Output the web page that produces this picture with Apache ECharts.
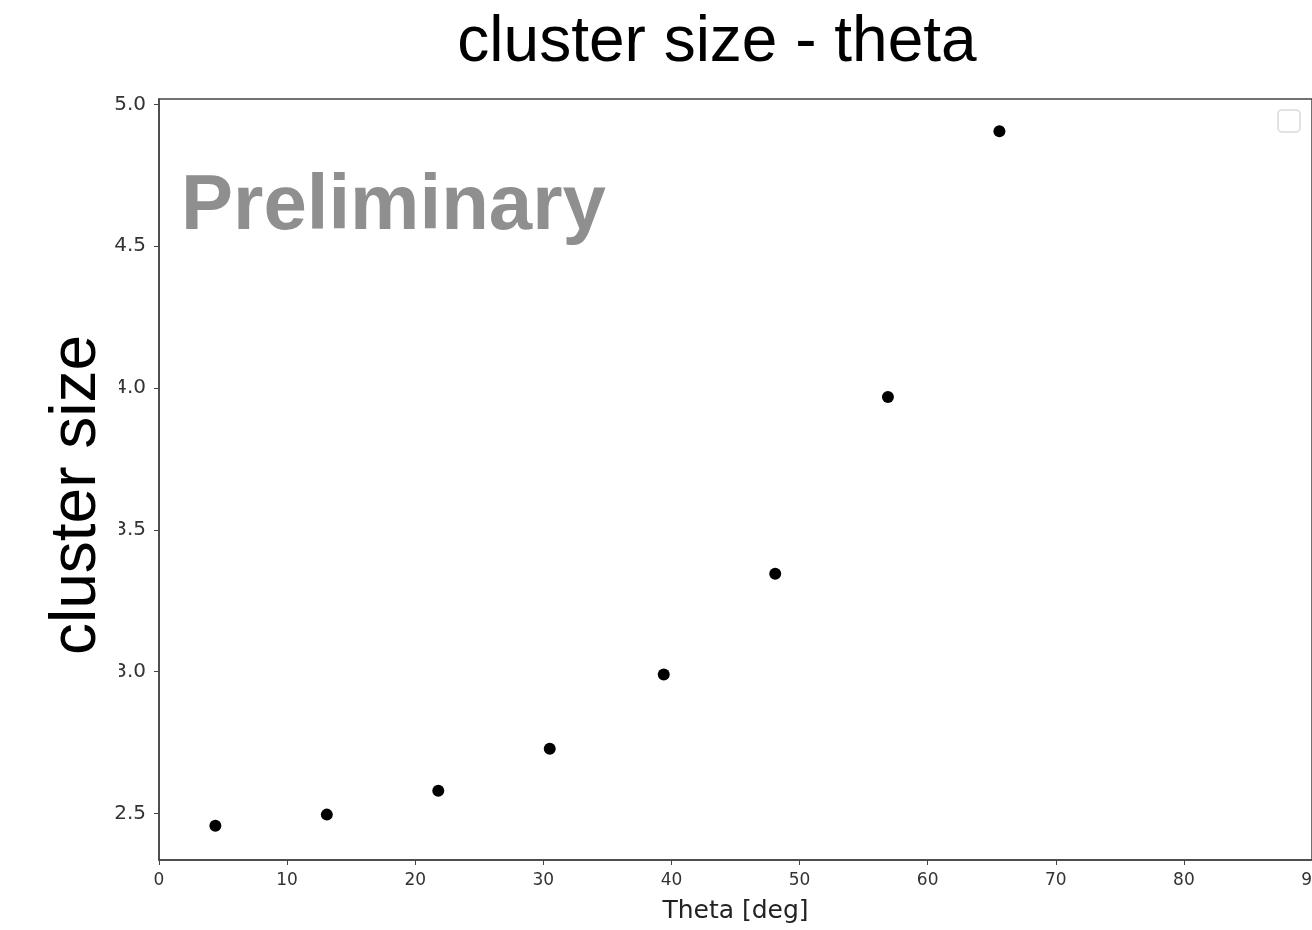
<!DOCTYPE html>
<html>
<head>
<meta charset="utf-8">
<title>cluster size - theta</title>
<script src="https://cdn.jsdelivr.net/npm/echarts@6/dist/echarts.min.js"></script>
<style>
  html, body { margin: 0; padding: 0; background: #ffffff; }
  #chart { width: 1312px; height: 930px; }
</style>
</head>
<body>
<div id="chart"></div>
<script>
// Incidence angle (deg) and mean cluster size
const theta = [4.4, 13.1, 21.8, 30.5, 39.4, 48.1, 56.9, 65.6];
const clusterSize = [2.457, 2.496, 2.580, 2.728, 2.990, 3.345, 3.968, 4.905];

const xTicks = [0, 10, 20, 30, 40, 50, 60, 70, 80, 90];
const yTicks = [2.5, 3.0, 3.5, 4.0, 4.5, 5.0];

const points = theta.map((t, i) => [t, clusterSize[i]]);

const chart = echarts.init(document.getElementById('chart'), null, { renderer: 'canvas' });

const axisColor = '#444444';

chart.setOption({
  backgroundColor: '#ffffff',
  animation: false,
  title: {
    text: 'cluster size - theta',
    left: 712,
    top: 6,
    textAlign: 'center',
    textStyle: { fontFamily: 'Liberation Sans', fontSize: 64, fontWeight: 'normal', color: '#000000' }
  },
  grid: {
    left: 159, right: 0, top: 99, bottom: 70,
    outerBoundsMode: 'none',
    containLabel: false,
    show: true, borderColor: axisColor, borderWidth: 1.5, backgroundColor: 'transparent'
  },
  xAxis: {
    type: 'value',
    min: 0,
    max: 90,
    interval: 10,
    name: 'Theta [deg]',
    nameLocation: 'middle',
    nameGap: 39,
    nameTextStyle: { fontFamily: 'DejaVu Sans', fontSize: 25, color: '#222222' },
    axisLine: { show: true, lineStyle: { color: axisColor, width: 1.5 } },
    axisTick: { show: true, length: 5, lineStyle: { color: axisColor } },
    axisLabel: {
      margin: 12, fontFamily: 'DejaVu Sans', fontSize: 17, color: '#333333',
      showMaxLabel: true, hideOverlap: false,
      formatter: v => xTicks.includes(v) ? String(v) : ''
    },
    splitLine: { show: false }
  },
  yAxis: {
    type: 'value',
    min: 2.336,
    max: 5.019,
    axisLine: { show: true, lineStyle: { color: axisColor, width: 1.5 } },
    axisTick: { show: true, length: 5, lineStyle: { color: axisColor }, customValues: yTicks },
    axisLabel: {
      margin: 13, fontFamily: 'DejaVu Sans', fontSize: 20, color: '#333333',
      customValues: yTicks, formatter: v => v.toFixed(1)
    },
    splitLine: { show: false }
  },
  graphic: [
    {
      type: 'text',
      left: 181,
      top: 168,
      z: 50,
      style: { text: 'Preliminary', fontFamily: 'Liberation Sans', fontWeight: 'bold', fontSize: 78, fill: '#8f8f8f' }
    },
    {
      // y-axis title panel, drawn over the left part of the tick labels
      type: 'rect',
      z: 60,
      shape: { x: 0, y: 320, width: 119, height: 385 },
      style: { fill: '#ffffff' }
    },
    {
      type: 'text',
      z: 70,
      x: 109,
      y: 495,
      rotation: Math.PI / 2,
      style: { text: 'cluster size', fontFamily: 'Liberation Sans', fontSize: 64, fill: '#000000', align: 'center', verticalAlign: 'bottom' }
    },
    {
      // empty legend box
      type: 'rect',
      z: 60,
      shape: { x: 1278, y: 110, width: 22, height: 22, r: 4 },
      style: { fill: '#ffffff', stroke: '#e2e2e2', lineWidth: 2 }
    }
  ],
  series: [{
    type: 'scatter',
    data: points,
    symbol: 'circle',
    symbolSize: 12,
    itemStyle: { color: '#000000', opacity: 1 },
    clip: false
  }]
});
</script>
</body>
</html>
